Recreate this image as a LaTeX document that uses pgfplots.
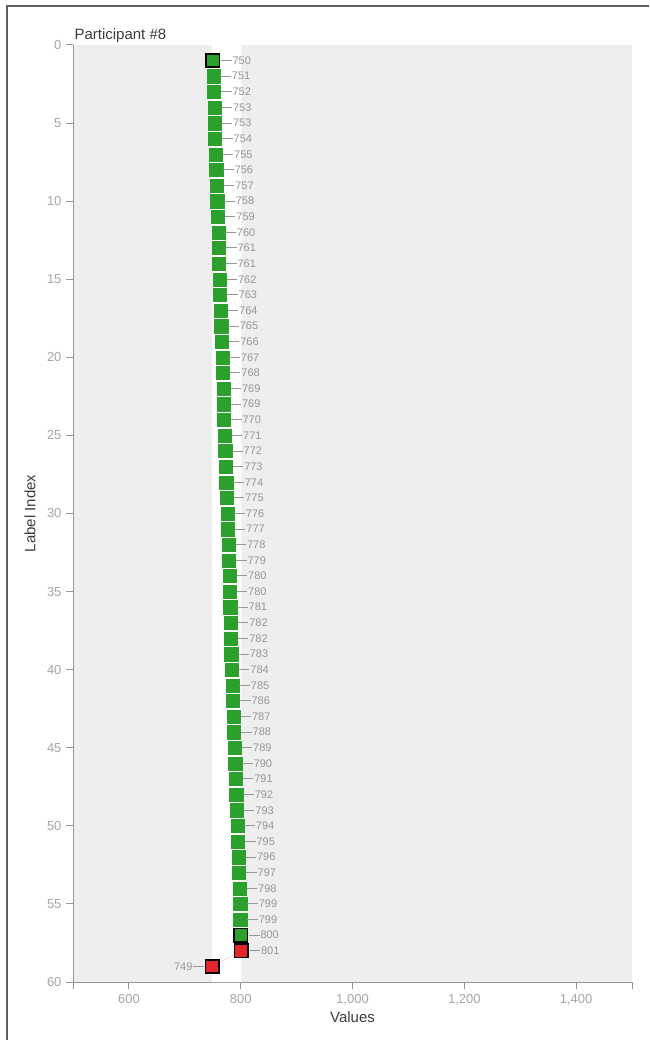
\documentclass[border=0pt]{standalone}
\usepackage{pgfplots}
\pgfplotsset{compat=1.18}
\usepackage{pgfplotstable}
\usepackage{fontspec}
\setmainfont{Liberation Sans}
\definecolor{bg}{RGB}{238,238,238}
\definecolor{mgreen}{RGB}{44,160,44}
\definecolor{mred}{RGB}{226,38,43}
\definecolor{axisgray}{RGB}{150,150,150}
\definecolor{ticktext}{RGB}{165,165,165}
\definecolor{labtext}{RGB}{150,150,150}
\definecolor{darktext}{RGB}{60,60,60}
\definecolor{framegray}{RGB}{95,95,95}

\pgfplotstableread{
idx val
1 750
2 751
3 752
4 753
5 753
6 754
7 755
8 756
9 757
10 758
11 759
12 760
13 761
14 761
15 762
16 763
17 764
18 765
19 766
20 767
21 768
22 769
23 769
24 770
25 771
26 772
27 773
28 774
29 775
30 776
31 777
32 778
33 779
34 780
35 780
36 781
37 782
38 782
39 783
40 784
41 785
42 786
43 787
44 788
45 789
46 790
47 791
48 792
49 793
50 794
51 795
52 796
53 797
54 798
55 799
56 799
57 800
58 801
59 749
}\alldata

\pgfplotstableread{
idx val
2 751
3 752
4 753
5 753
6 754
7 755
8 756
9 757
10 758
11 759
12 760
13 761
14 761
15 762
16 763
17 764
18 765
19 766
20 767
21 768
22 769
23 769
24 770
25 771
26 772
27 773
28 774
29 775
30 776
31 777
32 778
33 779
34 780
35 780
36 781
37 782
38 782
39 783
40 784
41 785
42 786
43 787
44 788
45 789
46 790
47 791
48 792
49 793
50 794
51 795
52 796
53 797
54 798
55 799
56 799
}\normalpts

\pgfplotstableread{
idx val
1 750
57 800
}\hlgreen

\pgfplotstableread{
idx val
58 801
}\redright

\pgfplotstableread{
idx val
59 749
}\redleft

\pgfplotstableread{
x y
749 0
801 0
801 60
749 60
749 0
}\band

\newcommand\leader{\textcolor{labtext}{\rule[0.33em]{10.5pt}{0.7pt}}}

\begin{document}
\begin{tikzpicture}[x=1pt,y=1pt]
\useasboundingbox (0,0) rectangle (649,1040);
\draw[line width=1.5pt, framegray] (7,0) -- (7,1034) -- (649,1034);
\begin{axis}[
  at={(73pt,58pt)}, anchor=south west,
  scale only axis, width=559pt, height=937pt,
  xmin=500, xmax=1500, ymin=0, ymax=60,
  y dir=reverse,
  clip=false,
  axis background/.style={fill=bg},
  axis x line*=bottom, axis y line*=left,
  axis line style={axisgray, line width=1pt},
  xtick={600,800,1000,1200,1400},
  ytick={0,5,...,60},
  extra x ticks={500,1500}, extra x tick labels={},
  extra x tick style={grid=none},
  tick align=outside, major tick length=7pt,
  tick style={axisgray, line width=1pt},
  /pgf/number format/assume math mode=true,
  /pgf/number format/1000 sep={,},
  ticklabel style={font=\fontsize{13}{15}\selectfont, text=ticktext},
  xticklabel style={yshift=-2pt},
  yticklabel style={xshift=-1pt},
  xlabel={Values}, ylabel={Label Index},
  xlabel style={at={(axis description cs:0.5,-0.0374)}, anchor=center, font=\fontsize{15}{17}\selectfont, text=darktext},
  ylabel style={at={(axis description cs:-0.077,0.5)}, anchor=center, rotate=0, font=\fontsize{15}{17}\selectfont, text=darktext},
  title={Participant \#8},
  title style={at={(axis description cs:0,1)}, anchor=base west, yshift=-1pt, xshift=-2pt, font=\fontsize{15}{17}\selectfont, text=darktext},
  every node near coord/.append style={font=\fontsize{11}{12}\selectfont, text=labtext, inner sep=0pt},
]
\addplot[fill=white, draw=none] table[x=x,y=y] {\band};
\addplot[line width=0.6pt, color=black!15, no marks] table[x=val,y=idx] {\alldata};
\addplot[only marks, mark=square*, mark size=6.6pt,
  mark options={fill=mgreen, draw=mgreen, line width=0.3pt},
  point meta=x,
  nodes near coords={\leader\hspace{1pt}\pgfmathprintnumber{\pgfplotspointmeta}},
  every node near coord/.append style={anchor=west, xshift=7pt, yshift=0pt}]
  table[x=val,y=idx] {\normalpts};
\addplot[only marks, mark=square*, mark size=6.6pt,
  mark options={fill=mgreen, draw=black, line width=1.6pt},
  point meta=x,
  nodes near coords={\leader\hspace{1pt}\pgfmathprintnumber{\pgfplotspointmeta}},
  every node near coord/.append style={anchor=west, xshift=7.5pt, yshift=0pt}]
  table[x=val,y=idx] {\hlgreen};
\addplot[only marks, mark=square*, mark size=6.6pt,
  mark options={fill=mred, draw=black, line width=1.6pt},
  point meta=x,
  nodes near coords={\leader\hspace{1pt}\pgfmathprintnumber{\pgfplotspointmeta}},
  every node near coord/.append style={anchor=west, xshift=7.5pt, yshift=0pt}]
  table[x=val,y=idx] {\redright};
\addplot[only marks, mark=square*, mark size=6.6pt,
  mark options={fill=mred, draw=black, line width=1.6pt},
  point meta=x,
  nodes near coords={\pgfmathprintnumber{\pgfplotspointmeta}\hspace{1pt}\leader},
  every node near coord/.append style={anchor=east, xshift=-7.5pt, yshift=0pt}]
  table[x=val,y=idx] {\redleft};
\end{axis}
\end{tikzpicture}
\end{document}
